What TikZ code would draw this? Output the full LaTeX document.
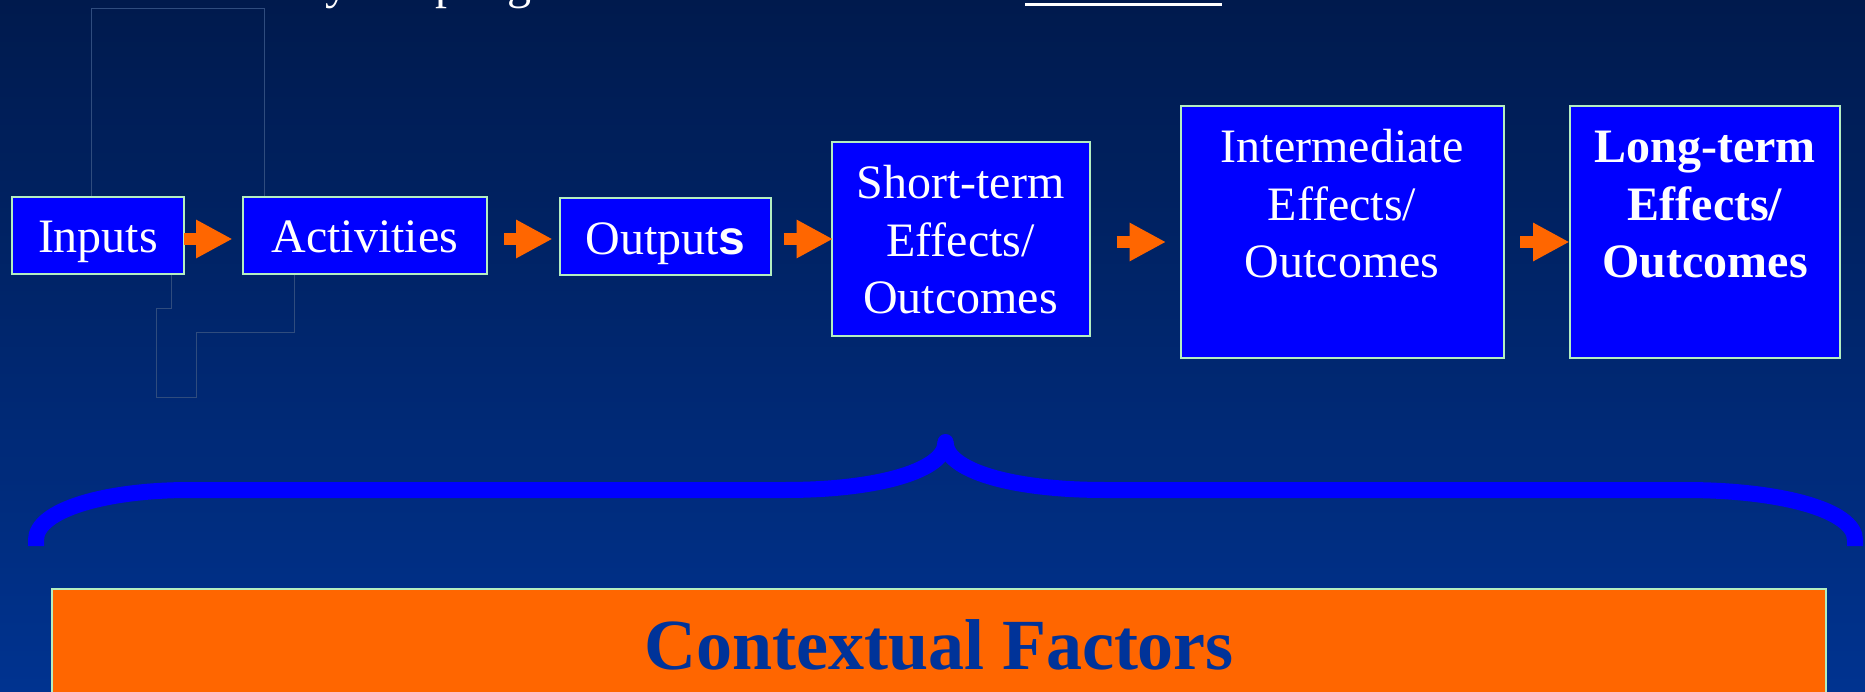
\documentclass[tikz,border=0pt]{standalone}
\usepackage{fontspec}
\setmainfont{Liberation Serif}
\newfontfamily\arialfont{Liberation Sans}
\usetikzlibrary{arrows.meta}
\definecolor{SlideTop}{HTML}{001A4D}
\definecolor{SlideBottom}{HTML}{003390}
\definecolor{BoxBlue}{HTML}{0000FF}
\definecolor{BoxEdge}{HTML}{B4EEC0}
\definecolor{FlowOrange}{HTML}{FF6600}
\definecolor{FactorBlue}{HTML}{003399}
\definecolor{GhostLine}{HTML}{2F4C7E}
\tikzset{
    stage/.style={rectangle, draw=BoxEdge, fill=BoxBlue, line width=2pt,
                inner sep=0, outer sep=0},
    stagetext/.style={anchor=base, text=white, inner sep=0,
                font=\fontsize{48}{57}\selectfont},
    stagebold/.style={stagetext, font=\fontsize{48}{57}\selectfont\bfseries},
    toptext/.style={anchor=base west, text=white, inner sep=0,
                font=\fontsize{48}{57}\selectfont},
    flow/.style={draw=FlowOrange, line width=12pt,
                -{Triangle[length=36.5pt, width=36pt, fill=FlowOrange]}},
    bracket/.style={draw=BoxBlue, line width=16pt},
    ghost/.style={draw=GhostLine, line width=.8pt},
}
% three lines of a box, given by their first baseline
\newcommand{\threeLines}[6]{%
    \node[#2] (#1.La) at (#1.center |- 0,#3) {#4};
    \node[#2] (#1.Lb) at (#1.center |- 0,#3+57.5) {#5};
    \node[#2] (#1.Lc) at (#1.center |- 0,#3+115) {#6};
}
\begin{document}
\begin{tikzpicture}[x=1pt, y=-1pt]
    \useasboundingbox (0,0) rectangle (1865,692);
    \clip (0,0) rectangle (1865,692);
    \shade[top color=SlideTop, bottom color=SlideBottom] (0,0) rectangle (1865,692);
    %
    % Leftovers of the slide
    \draw[ghost] (91.5,197) -- (91.5,8.5) -- (264.5,8.5) -- (264.5,197);
    \draw[ghost] (171,274) -- (171,308) -- (156.5,308) -- (156.5,397)
        -- (196.5,397) -- (196.5,332) -- (294.5,332) -- (294.5,274);
    \node[toptext] (TopY) at (325,-1) {y};
    \node[toptext] (TopP) at (435,-1) {p};
    \node[toptext] (TopG) at (507,-1) {g};
    \fill[white] (1025,3) rectangle (1222,6);
    %
    % First line
    \node[stage, minimum width=172pt, minimum height=77pt] (Inputs) at (98,235.5) {};
    \node[stagetext] (Inputs.La) at (Inputs.center |- 0,253) {Inputs};
    \node[stage, minimum width=244.5pt, minimum height=77pt] (Activities) at (364.75,235.5) {};
    \node[stagetext] (Activities.La) at (Activities.center |- 0,253) {Activities};
    \node[stage, minimum width=211pt, minimum height=77pt] (Outputs) at (665.5,236.5) {};
    \node[stagetext] (Outputs.La) at (Outputs.center |- 0,254.5) {Output{\arialfont\bfseries s}};
    %
    \node[stage, minimum width=258pt, minimum height=194pt] (Short) at (960.5,239) {};
    \threeLines{Short}{stagetext}{199}{Short-term}{Effects/}{Outcomes}
    \node[stage, minimum width=323pt, minimum height=252pt] (Inter) at (1342,232) {};
    \threeLines{Inter}{stagetext}{163}{Intermediate}{Effects/}{Outcomes}
    \node[stage, minimum width=270pt, minimum height=252pt] (Long) at (1705,232) {};
    \threeLines{Long}{stagebold}{163}{Long-term}{Effects/}{Outcomes}
    %
    % Arrows between the boxes
    \draw[flow] ([yshift=-3.5pt]Inputs.east) -- ([xshift=-10pt,yshift=-3.5pt]Activities.west);
    \draw[flow] ([xshift=17pt,yshift=-3.5pt]Activities.east) -- ([xshift=-7.5pt,yshift=-2.5pt]Outputs.west);
    \draw[flow] ([xshift=12.5pt,yshift=-2.5pt]Outputs.east) -- ([xshift=1.5pt]Short.west);
    \draw[flow] ([xshift=27pt,yshift=-3pt]Short.east) -- ([xshift=-14.5pt,yshift=-10pt]Inter.west);
    \draw[flow] ([xshift=16.5pt,yshift=-10pt]Inter.east) -- ([xshift=-.5pt,yshift=-10pt]Long.west);
    %
    % Brace
    \coordinate (BraceTip) at (945.5,442);
    \draw[bracket] (36,546) -- (36,540) .. controls (36,510) and (105,490) .. (190,490)
        -- (785,490) .. controls (880,490) and (945.5,470) .. (BraceTip);
    \draw[bracket] (1855,546) -- (1855,540) .. controls (1855,510) and (1780,490) .. (1685,490)
        -- (1105,490) .. controls (1010,490) and (945.5,470) .. (BraceTip);
    \fill[BoxBlue] (BraceTip) circle (8);
    %
    % Bottom box
    \node[stage, line width=1.5pt, fill=FlowOrange, minimum width=1774pt, minimum height=160pt] (Factors) at (939,669) {};
    \node[anchor=base, text=FactorBlue, inner sep=0, font=\fontsize{72}{80}\selectfont\bfseries]
        (Factors.La) at (Factors.center |- 0,669) {Contextual Factors};
\end{tikzpicture}
\end{document}
